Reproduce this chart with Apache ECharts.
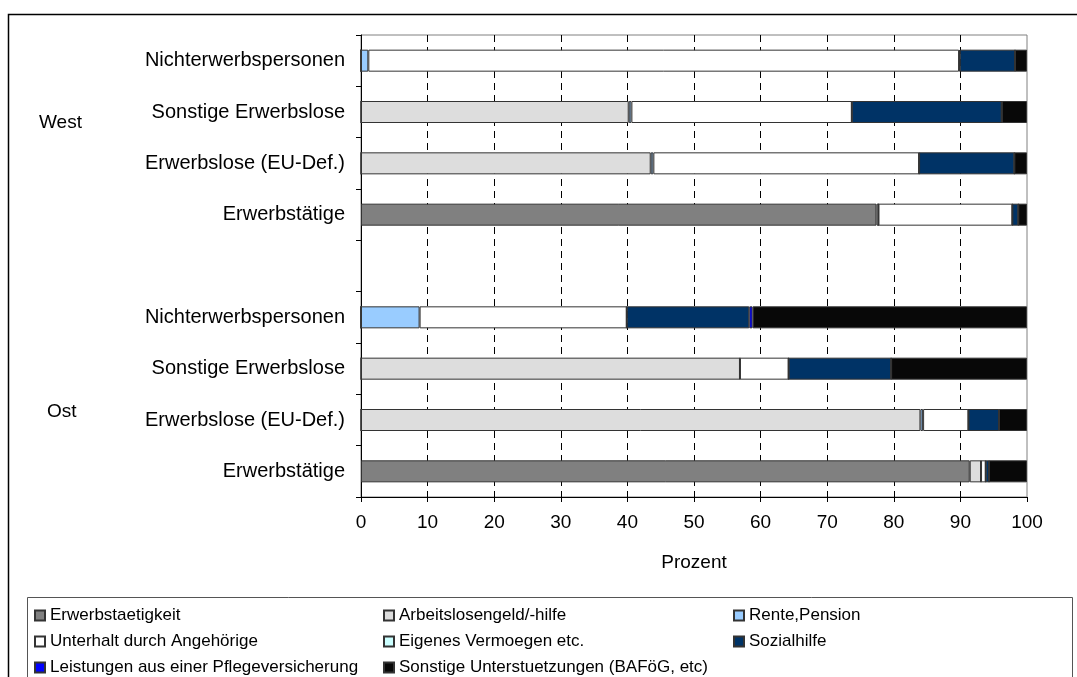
<!DOCTYPE html>
<html>
<head>
<meta charset="utf-8">
<script src="https://cdn.jsdelivr.net/npm/echarts@6/dist/echarts.min.js"></script>
<style>
  html, body { margin: 0; padding: 0; background: #fff; }
  #chart { width: 1077px; height: 677px; }
</style>
</head>
<body>
<div id="chart"></div>
<script>
// Categories from bottom to top; the empty slot separates the two regions.
const categories = [
  'Ost|Erwerbstätige', 'Ost|Erwerbslose (EU-Def.)', 'Ost|Sonstige Erwerbslose', 'Ost|Nichterwerbspersonen',
  'gap|',
  'West|Erwerbstätige', 'West|Erwerbslose (EU-Def.)', 'West|Sonstige Erwerbslose', 'West|Nichterwerbspersonen'
];
const regionLabels = ['West', 'Ost'];
const xTicks = [0, 10, 20, 30, 40, 50, 60, 70, 80, 90, 100];

// Share (%) of each main source of livelihood
const erwerbstaetigkeit = [91.4, 0, 0, 0, '-', 77.4, 0, 0, 0];
const arbeitslosengeld  = [1.7, 84.0, 56.9, 0, '-', 0.3, 43.5, 40.2, 0];
const rente             = [0, 0.4, 0, 8.8, '-', 0, 0.4, 0.4, 1.1];
const unterhalt         = [0.7, 6.8, 7.3, 31.1, '-', 20.1, 39.9, 33.1, 88.7];
const vermoegen         = [0, 0, 0, 0, '-', 0, 0, 0, 0.1];
const sozialhilfe       = [0.5, 4.6, 15.4, 18.4, '-', 0.9, 14.3, 22.5, 8.3];
const pflege            = [0, 0, 0, 0.5, '-', 0, 0, 0, 0];
const sonstige          = [5.7, 4.2, 20.4, 41.2, '-', 1.3, 1.9, 3.8, 1.8];

const seriesDefs = [
  { name: 'Erwerbstaetigkeit', data: erwerbstaetigkeit, color: '#808080' },
  { name: 'Arbeitslosengeld/-hilfe', data: arbeitslosengeld, color: '#dddddd' },
  { name: 'Rente,Pension', data: rente, color: '#99ccff' },
  { name: 'Unterhalt durch Angehörige', data: unterhalt, color: '#ffffff' },
  { name: 'Eigenes Vermoegen etc.', data: vermoegen, color: '#ccffff' },
  { name: 'Sozialhilfe', data: sozialhilfe, color: '#003366' },
  { name: 'Leistungen aus einer Pflegeversicherung', data: pflege, color: '#0000ff' },
  { name: 'Sonstige Unterstuetzungen (BAFöG, etc)', data: sonstige, color: '#080808' }
];

const FONT = "'Liberation Sans', Arial, sans-serif";

const legendColumns = [
  { left: 34, names: ['Erwerbstaetigkeit', 'Unterhalt durch Angehörige', 'Leistungen aus einer Pflegeversicherung'] },
  { left: 383, names: ['Arbeitslosengeld/-hilfe', 'Eigenes Vermoegen etc.', 'Sonstige Unterstuetzungen (BAFöG, etc)'] },
  { left: 733, names: ['Rente,Pension', 'Sozialhilfe'] }
];

const chart = echarts.init(document.getElementById('chart'), null, { renderer: 'canvas' });

chart.setOption({
  animation: false,
  backgroundColor: '#ffffff',
  textStyle: { fontFamily: FONT },
  grid: {
    left: 361, right: 50, top: 35, bottom: 180,
    show: true, borderColor: '#808080', borderWidth: 1
  },
  xAxis: {
    type: 'value',
    min: xTicks[0], max: xTicks[xTicks.length - 1], interval: 10,
    name: 'Prozent',
    nameLocation: 'middle',
    nameGap: 56,
    nameTextStyle: { fontSize: 19, color: '#000', fontFamily: FONT },
    axisLine: { show: true, lineStyle: { color: '#000', width: 1 } },
    axisTick: { show: true, length: 5, lineStyle: { color: '#000' } },
    axisLabel: { fontSize: 19, color: '#000', margin: 16, fontFamily: FONT },
    splitLine: {
      show: true, showMinLine: false, showMaxLine: false,
      lineStyle: { color: '#000', type: [7, 5], width: 1 }
    }
  },
  yAxis: {
    type: 'category',
    data: categories,
    axisLine: { show: true, lineStyle: { color: '#000', width: 1 } },
    axisTick: { show: true, length: 5, lineStyle: { color: '#000' } },
    axisLabel: {
      fontSize: 20, color: '#000', margin: 16, fontFamily: FONT,
      formatter: v => v.split('|')[1]
    },
    splitLine: { show: false }
  },
  legend: legendColumns.map(col => ({
    orient: 'vertical',
    left: col.left,
    top: 607,
    height: 80,
    padding: 0,
    data: col.names,
    icon: 'rect',
    itemWidth: 10,
    itemHeight: 10,
    itemGap: 9,
    selectedMode: false,
    textStyle: { fontSize: 17, color: '#000', fontFamily: FONT, lineHeight: 17 }
  })),
  series: seriesDefs.map(s => ({
    name: s.name,
    type: 'bar',
    stack: 'total',
    data: s.data,
    barWidth: 22,
    itemStyle: { color: s.color, borderColor: '#333333', borderWidth: 1 }
  })),
  graphic: [
    {
      type: 'rect', silent: true, z: -10,
      shape: { x: 8.5, y: 14.5, width: 1100, height: 700 },
      style: { fill: 'none', stroke: '#000', lineWidth: 1.5 }
    },
    {
      type: 'rect', silent: true, z: -9,
      shape: { x: 27.5, y: 597.5, width: 1045, height: 100 },
      style: { fill: 'none', stroke: '#555', lineWidth: 1 }
    },
    {
      type: 'text', silent: true, left: 39, top: 113,
      style: { text: regionLabels[0], font: '19px ' + FONT, fill: '#000' }
    },
    {
      type: 'text', silent: true, left: 47, top: 402,
      style: { text: regionLabels[1], font: '19px ' + FONT, fill: '#000' }
    }
  ]
});
</script>
</body>
</html>
